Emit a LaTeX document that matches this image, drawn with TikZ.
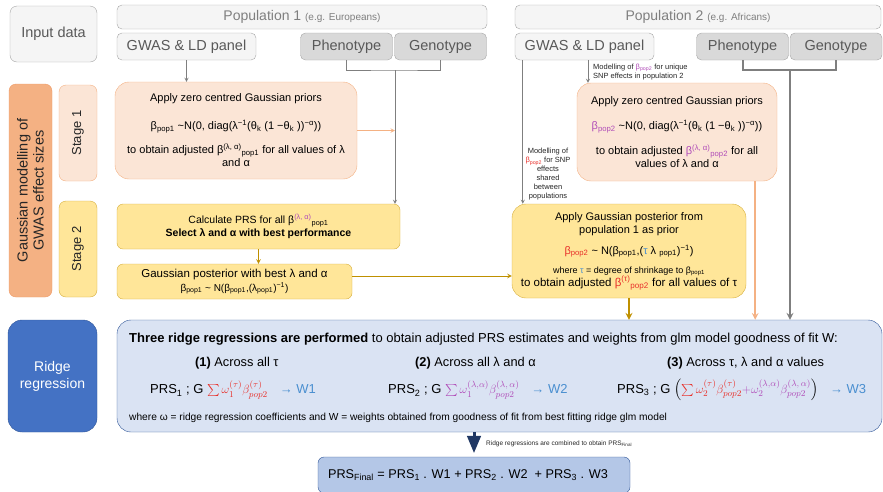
\documentclass[tikz,border=0pt]{standalone}
\usepackage{fontspec}
\setmainfont{Liberation Sans}
\usepackage{amsmath}
\usepackage{tikz}
\usetikzlibrary{shapes.geometric, arrows}

\definecolor{greyline}{HTML}{A6A6A6}
\definecolor{greyfill}{HTML}{F5F5F5}
\definecolor{greydark}{HTML}{D9D9D9}
\definecolor{greytext}{HTML}{595959}
\definecolor{greyarrow}{HTML}{7F7F7F}
\definecolor{peachfill}{HTML}{FBE5D6}
\definecolor{peachline}{HTML}{F4B183}
\definecolor{salmonfill}{HTML}{F4B183}
\definecolor{salmonline}{HTML}{EE9A66}
\definecolor{goldfill}{HTML}{FFE699}
\definecolor{goldline}{HTML}{D6AE3C}
\definecolor{goldarrow}{HTML}{BF9000}
\definecolor{ridgefill}{HTML}{DAE3F3}
\definecolor{navyline}{HTML}{2F5597}
\definecolor{navyarrow}{HTML}{203864}
\definecolor{bluefill}{HTML}{4472C4}
\definecolor{finalfill}{HTML}{B4C7E7}
\definecolor{poppurple}{HTML}{B04CB8}
\definecolor{popred}{HTML}{E8302A}
\definecolor{taublue}{HTML}{4A8FD0}

\newcommand{\sps}[1]{\textsuperscript{#1}}
\newcommand{\sbs}[1]{\textsubscript{#1}}

\tikzstyle{inputbox} = [rectangle, rounded corners=7pt, draw=greyline, fill=greyfill, text=greytext, font=\fontsize{14.5}{17}\selectfont]
\tikzstyle{headbox} = [rectangle, rounded corners=5pt, draw=greyline, fill=greyfill, text=greyarrow, minimum height=24pt, font=\fontsize{14}{16}\selectfont]
\tikzstyle{panelbox} = [rectangle, rounded corners=5pt, draw=greyline, fill=greyfill, text=greytext, minimum height=27pt, font=\fontsize{14.5}{16}\selectfont]
\tikzstyle{omicsbox} = [panelbox, fill=greydark, minimum width=92pt]
\tikzstyle{sidebox} = [rectangle, rounded corners=7pt, rotate=90, align=center, text=black!85, font=\fontsize{14.5}{16}\selectfont]
\tikzstyle{stagebox} = [sidebox, minimum width=96pt, minimum height=38pt, font=\fontsize{13}{15}\selectfont]
\tikzstyle{priorbox} = [rectangle, rounded corners=14pt, draw=peachline, fill=peachfill, align=center, font=\fontsize{11}{13}\selectfont]
\tikzstyle{posteriorbox} = [rectangle, rounded corners=6pt, draw=goldline, fill=goldfill, align=center, font=\fontsize{11}{13}\selectfont]
\tikzstyle{ridgetext} = [anchor=west, inner sep=0pt, font=\fontsize{13}{15}\selectfont]
\tikzstyle{notetext} = [inner sep=0pt, text=black!85, font=\fontsize{7.5}{9}\selectfont]
\tikzstyle{arrow} = [->, >=stealth, draw=greyarrow, line width=0.8pt]
\tikzstyle{thickarrow} = [->, >=stealth, draw=greyarrow, line width=2pt]
\tikzstyle{orangearrow} = [->, >=stealth, draw=peachline, line width=1pt]
\tikzstyle{orangethick} = [->, >=stealth, draw=peachline, line width=2pt]
\tikzstyle{goldconn} = [->, >=stealth, draw=goldarrow, line width=1pt]
\tikzstyle{goldthick} = [->, >=stealth, draw=goldarrow, line width=2pt]
\tikzstyle{navyconn} = [-triangle 45, draw=navyarrow, line width=3pt]

\begin{document}
\begin{tikzpicture}[x=1pt, y=-1pt]
\useasboundingbox (0,0) rectangle (883,491);

% input data row
\node (input) [inputbox, minimum width=87pt, minimum height=56pt] at (53.5,34) {Input data};
\node (pop1) [headbox, minimum width=370pt] at (302,17) {Population 1 {\fontsize{10}{12}\selectfont (e.g. Europeans)}};
\node (pop2) [headbox, minimum width=366pt] at (698,17) {Population 2 {\fontsize{10}{12}\selectfont (e.g. Africans)}};
\node (gwas1) [panelbox, minimum width=139pt] at (186.5,46.5) {GWAS \& LD panel};
\node (pheno1) [omicsbox] at (346.5,46.5) {Phenotype};
\node (geno1) [omicsbox] at (440.5,46.5) {Genotype};
\node (gwas2) [panelbox, minimum width=139pt] at (584.5,46.5) {GWAS \& LD panel};
\node (pheno2) [omicsbox] at (742.5,46.5) {Phenotype};
\node (geno2) [omicsbox] at (836,46.5) {Genotype};

% left column
\node (gauss) [sidebox, draw=salmonline, fill=salmonfill, minimum width=213pt, minimum height=43pt] at (30.5,190.5) {Gaussian modelling of\\GWAS effect sizes};
\node (stage1) [stagebox, draw=peachline, fill=peachfill] at (78,133) {Stage 1};
\node (stage2) [stagebox, draw=goldline, fill=goldfill] at (78,249) {Stage 2};
\node (ridgelabel) [rectangle, rounded corners=14pt, draw=navyline, fill=bluefill, text=white, align=center, minimum width=89pt, minimum height=112pt, font=\fontsize{14}{17}\selectfont] at (52.5,376) {Ridge\\regression};

% stage 1
\node (prior1) [priorbox, minimum width=242pt, minimum height=97pt] at (236,130.5) {Apply zero centred Gaussian priors\\[15pt]β\sbs{pop1} \textasciitilde N(0, diag(λ\sps{−1}(θ\sbs{k} (1 −θ\sbs{k} ))\sps{−α}))\\[11pt]to obtain adjusted β\sps{(λ, α)}\sbs{pop1} for all values of λ\\and α};
\node (prior2) [priorbox, minimum width=200pt, minimum height=98pt] at (677,132) {Apply zero centred Gaussian priors\\[12pt]\textcolor{poppurple}{β\sbs{pop2}} \textasciitilde N(0, diag(λ\sps{−1}(θ\sbs{k} (1 −θ\sbs{k} ))\sps{−α}))\\[12pt]to obtain adjusted \textcolor{poppurple}{β\sps{(λ, α)}\sbs{pop2}} for all\\values of λ and α};

% stage 2
\node (calc) [posteriorbox, minimum width=283pt, minimum height=45pt, font=\fontsize{10.5}{13}\selectfont] at (258.5,226.5) {Calculate PRS for all β\sps{\textcolor{poppurple}{(λ, α)}}\sbs{pop1}\\\textbf{Select λ and α with best performance}};
\node (post1) [posteriorbox, minimum width=235pt, minimum height=35pt, font=\fontsize{11.5}{14}\selectfont] at (234.5,281.5) {Gaussian posterior with best λ and α\\{\fontsize{10}{12}\selectfont β\sbs{pop1} \textasciitilde{} N(β\sbs{pop1},(λ\sbs{pop1})\sps{−1})}};
\node (post2) [posteriorbox, rounded corners=14pt, minimum width=234pt, minimum height=94pt] at (629,251) {Apply Gaussian posterior from\\population 1 as prior\\[8pt]\textcolor{popred}{β\sbs{pop2}} \textasciitilde{} N(β\sbs{pop1},(\textcolor{taublue}{τ} λ \sbs{pop1})\sps{−1})\\[6pt]{\fontsize{9}{11}\selectfont where \textcolor{taublue}{τ} = degree of shrinkage to β\sbs{pop1}}\\{\fontsize{11.5}{13}\selectfont to obtain adjusted \textcolor{popred}{β\sps{(τ)}\sbs{pop2}} for all values of τ}};

\node (uniquelabel) [notetext, anchor=west, align=left] at (593,72) {Modelling of \textcolor{poppurple}{β\sbs{pop2}} for unique\\SNP effects in population 2};
\node (sharedlabel) [notetext, align=center] at (548,174.5) {Modelling of\\\textcolor{popred}{β\sbs{pop2}} for SNP\\effects\\shared\\between\\populations};

% ridge regression
\node (ridge) [rectangle, rounded corners=14pt, draw=navyline, fill=ridgefill, minimum width=765pt, minimum height=112pt] at (499.5,376) {};
\node (head) [ridgetext] at (129,339) {\textbf{Three ridge regressions are performed} to obtain adjusted PRS estimates and weights from glm model goodness of fit W:};
\node (across1) [ridgetext, font=\fontsize{12.8}{15}\selectfont] at (195,363) {\textbf{(1)} Across all τ};
\node (across2) [ridgetext, font=\fontsize{12.8}{15}\selectfont] at (415,363) {\textbf{(2)} Across all λ and α};
\node (across3) [ridgetext, font=\fontsize{12.8}{15}\selectfont] at (667,363) {\textbf{(3)} Across τ, λ and α values};
\node (prs1) [ridgetext] at (150,390) {PRS\sbs{1} ; G \textcolor{popred}{$\sum\omega_1^{(\tau)}\beta_{pop2}^{(\tau)}$}\hspace{12pt}\textcolor{taublue}{→ W1}};
\node (prs2) [ridgetext] at (388,390) {PRS\sbs{2} ; G \textcolor{poppurple}{$\sum\omega_1^{(\lambda,\alpha)}\beta_{pop2}^{(\lambda,\,\alpha)}$}\hspace{12pt}\textcolor{taublue}{→ W2}};
\node (prs3) [ridgetext] at (617,390) {PRS\sbs{3} ; G $\left(\textcolor{popred}{\sum\omega_2^{(\tau)}\beta_{pop2}^{(\tau)}}\textcolor{poppurple}{+\omega_2^{(\lambda,\alpha)}\beta_{pop2}^{(\lambda,\,\alpha)}}\right)$\hspace{12pt}\textcolor{taublue}{→ W3}};
\node (where) [ridgetext, font=\fontsize{10.2}{12}\selectfont] at (129,418) {where ω = ridge regression coefficients and W = weights obtained from goodness of fit from best fitting ridge glm model};

\node (final) [rectangle, rounded corners=6pt, draw=navyline, fill=finalfill, minimum width=312pt, minimum height=36pt, font=\fontsize{12.7}{15}\selectfont] at (474,475) {PRS\sbs{Final} = PRS\sbs{1} . W1 + PRS\sbs{2} . W2 \ + PRS\sbs{3} . W3\hspace*{12pt}};
\node (combine) [notetext, anchor=west, font=\fontsize{6.5}{8}\selectfont] at (486,444) {Ridge regressions are combined to obtain PRS\sbs{Final}};

% connectors
\coordinate (bracket1) at (395,70);
\coordinate (bracket2) at (790,70);
\coordinate (gwas2a) at ([xshift=8pt]gwas2.south west);
\coordinate (gwas2b) at ([xshift=3.5pt]gwas2.south);
\coordinate (prior2out) at ([xshift=-22pt]prior2.south east);
\coordinate (post1out) at ([yshift=5.5pt]post1.east);

\draw [arrow] (gwas1.south) -- (gwas1.south |- prior1.north);
\draw [draw=greyarrow, line width=0.8pt] (pheno1.south) |- (bracket1) -| (geno1.south);
\draw [arrow] (bracket1) -- (bracket1 |- calc.north);
\draw [orangearrow] (prior1.east) -- (prior1.east -| bracket1);
\draw [arrow] (gwas2a) -- (gwas2a |- post2.north);
\draw [arrow] (gwas2b) -- (gwas2b |- prior2.north);
\draw [draw=greyarrow, line width=2pt] (pheno2.south) |- (bracket2) -| (geno2.south);
\draw [thickarrow] (bracket2) -- (bracket2 |- ridge.north);
\draw [orangethick] (prior2out) -- (prior2out |- ridge.north);
\draw [goldconn] (calc.south) -- (calc.south |- post1.north);
\draw [goldconn] (post1out) -- (post1out -| post2.west);
\draw [goldthick] (post2.south) -- (post2.south |- ridge.north);
\draw [navyconn] (final.north |- ridge.south) -- ([yshift=4pt]final.north);

\end{tikzpicture}
\end{document}
